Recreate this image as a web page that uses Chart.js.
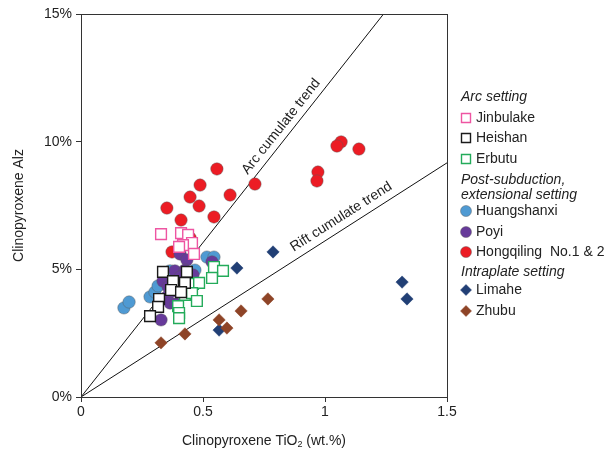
<!DOCTYPE html>
<html>
<head>
<meta charset="utf-8">
<script src="https://cdn.jsdelivr.net/npm/chart.js@4/dist/chart.umd.min.js"></script>
<style>
  html, body { margin: 0; padding: 0; background: #fff; }
</style>
</head>
<body>
<canvas id="cpxChart" width="606" height="449"></canvas>
<script>
// clinopyroxene TiO2 (wt.%) against Alz (%) for each locality
const jinbulakeTi = [0.328, 0.410, 0.439, 0.455, 0.418, 0.402, 0.463];
const jinbulakeAl = [6.38, 6.42, 6.35, 6.03, 5.95, 5.88, 5.60];

const heishanTi = [0.336, 0.434, 0.377, 0.426, 0.369, 0.410, 0.320, 0.316, 0.283];
const heishanAl = [4.90, 4.90, 4.54, 4.47, 4.19, 4.11, 3.84, 3.53, 3.17];

const erbutuTi = [0.545, 0.582, 0.537, 0.459, 0.484, 0.426, 0.455, 0.475, 0.398, 0.402, 0.402];
const erbutuAl = [5.09, 4.94, 4.66, 4.43, 4.47, 4.00, 4.07, 3.76, 3.56, 3.29, 3.09];

const huangshanxiTi = [0.176, 0.197, 0.283, 0.303, 0.316, 0.516, 0.545, 0.467, 0.365];
const huangshanxiAl = [3.49, 3.72, 3.92, 4.11, 4.35, 5.48, 5.48, 4.97, 4.94];

const poyiTi = [0.406, 0.434, 0.385, 0.426, 0.406, 0.459, 0.336, 0.357, 0.377, 0.352, 0.365, 0.389, 0.328, 0.537, 0.447];
const poyiAl = [5.60, 5.37, 4.94, 4.97, 4.70, 4.78, 4.54, 4.31, 4.15, 3.92, 3.68, 3.64, 3.02, 5.29, 4.19];

const hongqilingTi = [0.557, 0.488, 0.447, 0.484, 0.352, 0.410, 0.545, 0.611, 0.713, 1.066, 1.049, 1.139, 0.971, 0.967, 0.373, 0.447];
const hongqilingAl = [8.93, 8.30, 7.83, 7.48, 7.40, 6.93, 7.05, 7.91, 8.34, 9.99, 9.83, 9.71, 8.81, 8.46, 5.68, 6.23];

const limaheTi = [0.639, 0.787, 0.566, 1.316, 1.336];
const limaheAl = [5.05, 5.68, 2.62, 4.50, 3.84];

const zhubuTi = [0.328, 0.426, 0.566, 0.598, 0.656, 0.766];
const zhubuAl = [2.12, 2.47, 3.02, 2.70, 3.37, 3.84];

// cumulate trend lines, both from the origin
const arcTrendTi = [0, 1.24];
const arcTrendAl = [0, 15];
const riftTrendTi = [0, 1.5];
const riftTrendAl = [0, 9.17];

const xTicks = [0, 0.5, 1, 1.5];
const yTicks = [0, 5, 10, 15];

const FONT = "'Liberation Sans', Arial, Helvetica, sans-serif";

function pairs(xs, ys) {
    return xs.map((x, i) => ({x: x, y: ys[i]}));
}

function squareSet(label, xs, ys, color, order) {
    return {
        label, data: pairs(xs, ys), order,
        pointStyle: "rect", pointRadius: 7.6,
        backgroundColor: "#ffffff", borderColor: color, borderWidth: 1.4
    };
}

function circleSet(label, xs, ys, color, order) {
    return {
        label, data: pairs(xs, ys), order,
        pointStyle: "circle", pointRadius: 6.2,
        backgroundColor: color, borderColor: "rgba(90,90,90,0.55)", borderWidth: 0.8
    };
}

function diamondSet(label, xs, ys, color, order) {
    return {
        label, data: pairs(xs, ys), order,
        pointStyle: "rectRot", pointRadius: 6.2,
        backgroundColor: color, borderColor: color, borderWidth: 0.5
    };
}

function trendSet(label, xs, ys) {
    return {
        type: "line", label, data: pairs(xs, ys), order: 20,
        borderColor: "#111", borderWidth: 1, pointRadius: 0, fill: false, tension: 0
    };
}

const datasets = [
    trendSet("Arc cumulate trend", arcTrendTi, arcTrendAl),
    trendSet("Rift cumulate trend", riftTrendTi, riftTrendAl),
    circleSet("Hongqiling  No.1 & 2", hongqilingTi, hongqilingAl, "#ec1c24", 9),
    circleSet("Huangshanxi", huangshanxiTi, huangshanxiAl, "#4f9ad3", 8),
    circleSet("Poyi", poyiTi, poyiAl, "#673a9a", 7),
    squareSet("Jinbulake", jinbulakeTi, jinbulakeAl, "#ee55a2", 4),
    squareSet("Erbutu", erbutuTi, erbutuAl, "#23ab5a", 5),
    squareSet("Heishan", heishanTi, heishanAl, "#1a1a1a", 3),
    diamondSet("Limahe", limaheTi, limaheAl, "#213f75", 2),
    diamondSet("Zhubu", zhubuTi, zhubuAl, "#8e4427", 1)
];

// legend rows: headers in italics, items with their marker
const legendRows = [
    {head: "Arc setting", y: 97},
    {item: "Jinbulake", y: 118},
    {item: "Heishan", y: 138},
    {item: "Erbutu", y: 159},
    {head: "Post-subduction,", y: 180},
    {head: "extensional setting", y: 195},
    {item: "Huangshanxi", y: 211},
    {item: "Poyi", y: 232},
    {item: "Hongqiling  No.1 & 2", y: 252},
    {head: "Intraplate setting", y: 272},
    {item: "Limahe", y: 290},
    {item: "Zhubu", y: 311}
];

function drawMarker(ctx, ds, x, y) {
    ctx.save();
    ctx.fillStyle = ds.backgroundColor;
    ctx.strokeStyle = ds.borderColor;
    ctx.lineWidth = ds.borderWidth;
    ctx.beginPath();
    if (ds.pointStyle === "rect") {
        ctx.rect(x - 4.5, y - 4.5, 9, 9);
    } else if (ds.pointStyle === "circle") {
        ctx.arc(x, y, 5.5, 0, Math.PI * 2);
    } else {
        ctx.moveTo(x, y - 5.5);
        ctx.lineTo(x + 5.5, y);
        ctx.lineTo(x, y + 5.5);
        ctx.lineTo(x - 5.5, y);
        ctx.closePath();
    }
    ctx.fill();
    ctx.stroke();
    ctx.restore();
}

const decorations = {
    id: "decorations",
    afterDraw(chart) {
        const ctx = chart.ctx;
        const area = chart.chartArea;
        const xs = chart.scales.x;
        const ys = chart.scales.y;

        // frame around the plot
        ctx.save();
        ctx.strokeStyle = "#333";
        ctx.lineWidth = 1;
        ctx.strokeRect(Math.round(area.left) + 0.5, Math.round(area.top) + 0.5,
            Math.round(area.right - area.left), Math.round(area.bottom - area.top));
        ctx.restore();

        // labels along the trend lines
        function lineLabel(text, tx, ty, t, off) {
            const x0 = xs.getPixelForValue(tx[0]), y0 = ys.getPixelForValue(ty[0]);
            const x1 = xs.getPixelForValue(tx[1]), y1 = ys.getPixelForValue(ty[1]);
            const ang = Math.atan2(y1 - y0, x1 - x0);
            const nx = Math.sin(ang), ny = -Math.cos(ang);
            const px = x0 + (x1 - x0) * t + nx * off;
            const py = y0 + (y1 - y0) * t + ny * off;
            ctx.save();
            ctx.translate(px, py);
            ctx.rotate(ang);
            ctx.fillStyle = "#222";
            ctx.font = "14px " + FONT;
            ctx.textAlign = "center";
            ctx.textBaseline = "middle";
            ctx.fillText(text, 0, 0);
            ctx.restore();
        }
        lineLabel("Arc cumulate trend", arcTrendTi, arcTrendAl, 0.689, 10.5);
        lineLabel("Rift cumulate trend", riftTrendTi, riftTrendAl, 0.728, 11.5);

        // axis titles
        ctx.save();
        ctx.fillStyle = "#222";
        ctx.textBaseline = "middle";
        const main = "Clinopyroxene TiO";
        const tail = " (wt.%)";
        ctx.font = "14px " + FONT;
        const wMain = ctx.measureText(main).width;
        const wTail = ctx.measureText(tail).width;
        ctx.font = "9px " + FONT;
        const wSub = ctx.measureText("2").width;
        let tx = (area.left + area.right) / 2 - (wMain + wSub + wTail) / 2;
        const ty = 441;
        ctx.font = "14px " + FONT;
        ctx.textAlign = "left";
        ctx.fillText(main, tx, ty);
        ctx.font = "9px " + FONT;
        ctx.fillText("2", tx + wMain, ty + 4);
        ctx.font = "14px " + FONT;
        ctx.fillText(tail, tx + wMain + wSub, ty);

        ctx.translate(19, (area.top + area.bottom) / 2);
        ctx.rotate(-Math.PI / 2);
        ctx.textAlign = "center";
        ctx.fillText("Clinopyroxene Alz", 0, 0);
        ctx.restore();

        // legend
        ctx.save();
        ctx.textBaseline = "middle";
        ctx.textAlign = "left";
        ctx.fillStyle = "#222";
        legendRows.forEach(row => {
            if (row.head) {
                ctx.font = "italic 14px " + FONT;
                ctx.fillText(row.head, 461, row.y);
            } else {
                const ds = chart.data.datasets.find(d => d.label === row.item);
                drawMarker(ctx, ds, 466, row.y);
                ctx.font = "14px " + FONT;
                ctx.fillStyle = "#222";
                ctx.fillText(row.item, 476, row.y);
            }
        });
        ctx.restore();
    }
};

const ctx = document.getElementById("cpxChart").getContext("2d");
const chart = new Chart(ctx, {
    type: "scatter",
    data: {datasets},
    options: {
        responsive: false,
        animation: false,
        events: [],
        layout: {padding: {left: 0, right: 159, top: 14, bottom: 0}},
        plugins: {legend: {display: false}, tooltip: {enabled: false}},
        scales: {
            x: {
                type: "linear", min: 0, max: 1.5,
                afterFit(scale) { scale.height = 52; },
                afterBuildTicks(scale) { scale.ticks = xTicks.map(v => ({value: v})); },
                ticks: {
                    color: "#222", font: {size: 14, family: FONT}, padding: 2,
                    maxRotation: 0, autoSkip: false,
                    callback: v => String(v)
                },
                grid: {drawOnChartArea: false, drawTicks: true, tickLength: 5, color: "#333"},
                border: {display: false}
            },
            y: {
                type: "linear", min: 0, max: 15,
                afterFit(scale) { scale.width = 81; },
                afterBuildTicks(scale) { scale.ticks = yTicks.map(v => ({value: v})); },
                ticks: {
                    color: "#222", font: {size: 14, family: FONT}, padding: 4,
                    callback: v => v + "%"
                },
                grid: {drawOnChartArea: false, drawTicks: true, tickLength: 5, color: "#333"},
                border: {display: false}
            }
        }
    },
    plugins: [decorations]
});
</script>
</body>
</html>
